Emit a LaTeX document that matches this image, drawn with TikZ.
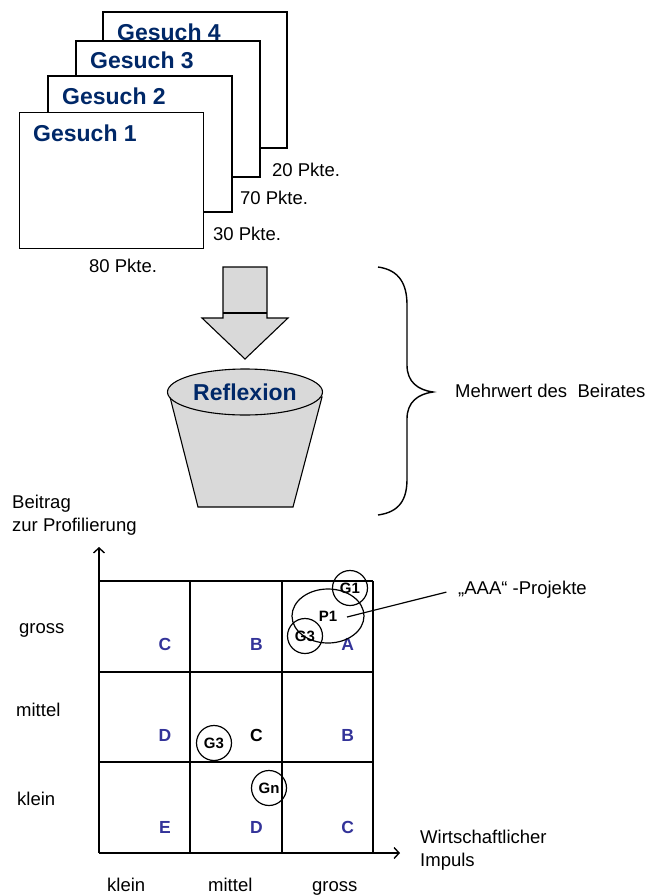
\documentclass[tikz,border=0pt]{standalone}
\usepackage{fontspec}
\setmainfont{Liberation Sans}
\usepackage{tikz}
\usetikzlibrary{arrows.meta,shapes.geometric}
\definecolor{titleblue}{RGB}{0,40,104}
\definecolor{cellblue}{RGB}{51,51,153}
\definecolor{bucketgray}{RGB}{217,217,217}

\begin{document}
\begin{tikzpicture}[x=1pt,y=-1pt,>={Straight Barb[length=5pt,width=11pt]},
                    line join=miter]
  \tikzstyle{every node}=[inner sep=0pt]
  \tikzstyle{sheet}=[draw,fill=white,line width=1.9pt,minimum width=184pt,minimum height=136pt]
  \tikzstyle{title}=[anchor=base west,text=titleblue,font=\fontsize{23}{26}\selectfont\bfseries]
  \tikzstyle{txt}=[anchor=base west,font=\fontsize{18.5}{22}\selectfont]
  \tikzstyle{cell}=[anchor=base,font=\fontsize{17.5}{20}\selectfont\bfseries]
  \tikzstyle{gcircle}=[draw,circle,minimum size=35pt,line width=1.2pt,font=\fontsize{15}{17}\selectfont\bfseries]
  \tikzstyle{gridline}=[line width=2pt]

  \useasboundingbox (0,0) rectangle (648,895);

  % Gesuche, back to front
  \node[sheet] (s4) at (195,80) {};
  \node[title] (t4) at (117,40) {Gesuch 4};
  \node[sheet] (s3) at (168,109) {};
  \node[title] (t3) at (90,68) {Gesuch 3};
  \node[sheet] (s2) at (140,144) {};
  \node[title] (t2) at (62,104) {Gesuch 2};
  \node[sheet] (s1) at (111.5,180.5) {};
  \node[title] (t1) at (33,141) {Gesuch 1};

  \node[txt] (p4) at (272,176) {20 Pkte.};
  \node[txt] (p3) at (240,204) {70 Pkte.};
  \node[txt] (p2) at (213,240) {30 Pkte.};
  \node[txt] (p1) at (89,272) {80 Pkte.};

  % arrow and bucket
  \draw[fill=bucketgray,line width=1.1pt] (223,267) -- (267,267) -- (267,318) -- (288,318)
        -- (245,359) -- (202,318) -- (223,318) -- cycle;
  \draw[line width=1.1pt] (223,313) -- (267,313);
  \draw[fill=bucketgray,line width=1.1pt] (170,397) -- (198,507) -- (293,507) -- (322,397) -- cycle;
  \node[draw,ellipse,fill=bucketgray,line width=1.1pt,minimum width=155pt,minimum height=46pt,
        text=titleblue,font=\fontsize{23}{26}\selectfont\bfseries] (refl) at (245,392) {Reflexion};

  % brace
  \draw[line width=1.4pt] (378,267) .. controls (400,270) and (407,285) .. (407,305) -- (407,365)
        .. controls (407,382) and (418,390) .. (433,392)
        .. controls (418,394) and (407,402) .. (407,419) -- (407,479)
        .. controls (407,499) and (400,512) .. (378,515);
  \node[txt] (mehrwert) at (455,397) {Mehrwert des\ \ Beirates};

  % portfolio
  \node[txt] (beitrag) at (12,508) {Beitrag};
  \node[txt] (profil) at (12,531) {zur Profilierung};

  \foreach \i in {0,...,3} {
    \draw[gridline] (99+\i*91.33,581) -- (99+\i*91.33,853);
    \draw[gridline] (99,581+\i*90.67) -- (373,581+\i*90.67);
  }
  \coordinate (o) at (99,853);
  \coordinate (ytip) at (99,547);
  \coordinate (xtip) at (400,853);
  \draw[->,line width=1.4pt] (o) -- (ytip);
  \draw[->,line width=1.4pt] (o) -- (xtip);

  \foreach \c/\r/\lab/\clr in {0/0/C/cellblue,1/0/B/cellblue,2/0/A/cellblue,
                                0/1/D/cellblue,1/1/C/black,2/1/B/cellblue,
                                0/2/E/cellblue,1/2/D/cellblue,2/2/C/cellblue}
    \node[cell,text=\clr] (l\c\r) at (165+\c*91.33,650+\r*91.5) {\lab};

  \node[gcircle] (g1) at (350,588) {G1};
  \node[draw,ellipse,minimum width=72pt,minimum height=54pt,line width=1.2pt,
        font=\fontsize{15}{17}\selectfont\bfseries] (pone) at (328,616) {P1};
  \node[gcircle] (g3a) at (305,636) {G3};
  \node[gcircle] (g3b) at (214,743) {G3};
  \node[gcircle] (gn) at (269,788) {Gn};

  \coordinate (lead) at (347,617);
  \node[txt] (aaa) at (458,594) {„AAA“ -Projekte};
  \draw[line width=1.2pt,shorten >=12pt] (lead) -- (aaa.west);

  \node[txt] (rgross) at (19,633) {gross};
  \node[txt] (rmittel) at (16,716) {mittel};
  \node[txt] (rklein) at (17,805) {klein};
  \node[txt] (cklein) at (107,891) {klein};
  \node[txt] (cmittel) at (208,891) {mittel};
  \node[txt] (cgross) at (312,891) {gross};
  \node[txt] (wirt) at (420,843) {Wirtschaftlicher};
  \node[txt] (impuls) at (420,866) {Impuls};
\end{tikzpicture}
\end{document}
